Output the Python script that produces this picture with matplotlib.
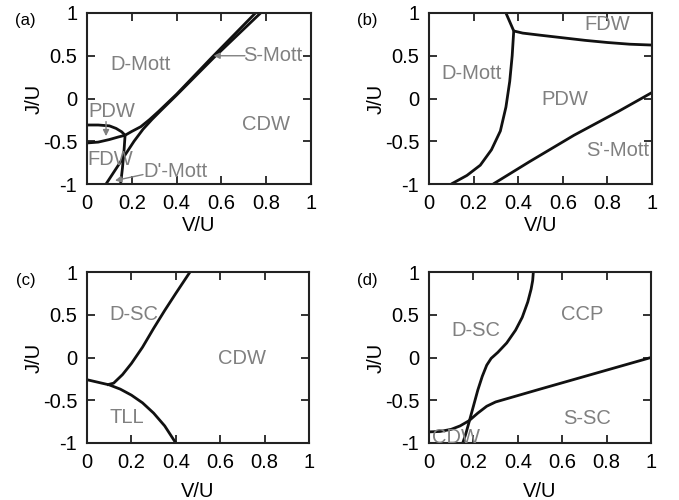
import matplotlib
matplotlib.use("Agg")
import matplotlib.pyplot as plt

plt.rcParams['font.family'] = ['Liberation Sans', 'DejaVu Sans']
plt.rcParams['axes.unicode_minus'] = False

# ---------------- data ----------------
x_ticks = [0, 0.2, 0.4, 0.6, 0.8, 1.0]
x_tick_labels = ["0", "0.2", "0.4", "0.6", "0.8", "1"]
y_ticks = [-1, -0.5, 0, 0.5, 1]
y_tick_labels = ["-1", "-0.5", "0", "0.5", "1"]

# panel (a)
a_pdw_upper_x = [0.0, 0.05, 0.10, 0.13, 0.155, 0.17]
a_pdw_upper_y = [-0.31, -0.31, -0.32, -0.35, -0.39, -0.43]
a_pdw_lower_x = [0.0, 0.05, 0.10, 0.14, 0.17]
a_pdw_lower_y = [-0.52, -0.51, -0.48, -0.45, -0.43]
a_vert_x = [0.17, 0.165, 0.158, 0.15]
a_vert_y = [-0.43, -0.62, -0.82, -1.0]
a_lineA_x = [0.17, 0.20, 0.24, 0.28, 0.32, 0.40, 0.55, 0.752]
a_lineA_y = [-0.43, -0.385, -0.33, -0.245, -0.15, 0.05, 0.46, 1.0]
a_lineB_x = [0.085, 0.13, 0.17, 0.21, 0.25, 0.29, 0.33, 0.40, 0.565, 0.775]
a_lineB_y = [-1.0, -0.82, -0.66, -0.50, -0.36, -0.245, -0.14, 0.04, 0.475, 1.0]

# panel (b)
b_dmott_x = [0.10, 0.17, 0.23, 0.28, 0.32, 0.345, 0.362, 0.373, 0.38]
b_dmott_y = [-1.0, -0.90, -0.78, -0.60, -0.38, -0.10, 0.20, 0.50, 0.79]
b_top_x = [0.38, 0.345]
b_top_y = [0.79, 1.0]
b_fdw_x = [0.38, 0.42, 0.50, 0.60, 0.70, 0.80, 0.90, 1.0]
b_fdw_y = [0.79, 0.765, 0.74, 0.71, 0.68, 0.655, 0.635, 0.625]
b_smott_x = [0.288, 0.45, 0.65, 0.85, 1.0]
b_smott_y = [-1.0, -0.74, -0.43, -0.15, 0.07]

# panel (c)
c_tll_x = [0.0, 0.05, 0.10, 0.15, 0.20, 0.25, 0.30, 0.35, 0.40]
c_tll_y = [-0.26, -0.29, -0.32, -0.37, -0.44, -0.53, -0.65, -0.80, -1.0]
c_dsc_x = [0.09, 0.12, 0.16, 0.20, 0.25, 0.30, 0.35, 0.40, 0.464]
c_dsc_y = [-0.32, -0.30, -0.20, -0.07, 0.12, 0.34, 0.55, 0.75, 1.0]

# panel (d)
d_dsc_x = [0.152, 0.165, 0.18, 0.20, 0.22, 0.24, 0.26, 0.28, 0.31, 0.35, 0.39, 0.42, 0.445, 0.46, 0.467, 0.47]
d_dsc_y = [-1.0, -0.90, -0.76, -0.57, -0.38, -0.22, -0.09, -0.01, 0.06, 0.17, 0.32, 0.47, 0.65, 0.80, 0.90, 1.0]
d_ssc_x = [0.0, 0.05, 0.10, 0.14, 0.18, 0.22, 0.26, 0.30, 0.50, 0.75, 1.0]
d_ssc_y = [-0.87, -0.865, -0.84, -0.80, -0.74, -0.65, -0.57, -0.52, -0.37, -0.185, 0.0]

# ---------------- styling ----------------
FS = 14.5
GRAY = '#808080'
LW = 2.0

fig = plt.figure(figsize=(6.79, 5.0), dpi=100)
pos = {
    'a': [87 / 679, 0.632, 224 / 679, 0.342],
    'b': [429 / 679, 0.632, 223 / 679, 0.342],
    'c': [87 / 679, 0.114, 222 / 679, 0.342],
    'd': [429 / 679, 0.114, 222 / 679, 0.342],
}
axs = {}
for k, p in pos.items():
    ax = fig.add_axes(p)
    ax.set_xlim(0, 1)
    ax.set_ylim(-1, 1)
    ax.set_xticks(x_ticks)
    ax.set_xticklabels(x_tick_labels)
    ax.set_yticks(y_ticks)
    ax.set_yticklabels(y_tick_labels)
    ax.tick_params(direction='in', top=True, right=True, length=6, width=1.3,
                   labelsize=FS, pad=7, color='#222222')
    for s in ax.spines.values():
        s.set_linewidth(1.5)
        s.set_color('#222222')
    ax.set_xlabel('V/U', fontsize=FS)
    ax.set_ylabel('J/U', fontsize=FS)
    ax.yaxis.set_label_coords(-0.195, 0.5)
    if k in ('a', 'b'):
        ax.xaxis.set_label_coords(0.5, -0.19)
    else:
        ax.xaxis.set_label_coords(0.5, -0.23)
    axs[k] = ax

def line(ax, x, y):
    ax.plot(x, y, color='#111111', lw=LW, solid_capstyle='butt', solid_joinstyle='round')

def label(ax, x, y, s):
    ax.text(x, y, s, color=GRAY, fontsize=FS, ha='center', va='center')

def arrow(ax, tail, tip):
    ax.annotate('', xy=tip, xytext=tail,
                arrowprops=dict(arrowstyle='-|>', color=GRAY, lw=1.0,
                                mutation_scale=9, shrinkA=0, shrinkB=0))

# (a)
ax = axs['a']
line(ax, a_pdw_upper_x, a_pdw_upper_y)
line(ax, a_pdw_lower_x, a_pdw_lower_y)
line(ax, a_vert_x, a_vert_y)
line(ax, a_lineA_x, a_lineA_y)
line(ax, a_lineB_x, a_lineB_y)
label(ax, 0.11, -0.155, 'PDW')
label(ax, 0.106, -0.71, 'FDW')
label(ax, 0.237, 0.40, 'D-Mott')
label(ax, 0.80, -0.30, 'CDW')
label(ax, 0.83, 0.50, 'S-Mott')
label(ax, 0.395, -0.85, "D'-Mott")
arrow(ax, (0.085, -0.27), (0.085, -0.44))
arrow(ax, (0.25, -0.89), (0.125, -0.96))
arrow(ax, (0.705, 0.50), (0.565, 0.50))

# (b)
ax = axs['b']
line(ax, b_dmott_x, b_dmott_y)
line(ax, b_top_x, b_top_y)
line(ax, b_fdw_x, b_fdw_y)
line(ax, b_smott_x, b_smott_y)
label(ax, 0.80, 0.87, 'FDW')
label(ax, 0.19, 0.295, 'D-Mott')
label(ax, 0.61, -0.01, 'PDW')
label(ax, 0.845, -0.61, "S'-Mott")

# (c)
ax = axs['c']
line(ax, c_tll_x, c_tll_y)
line(ax, c_dsc_x, c_dsc_y)
label(ax, 0.21, 0.50, 'D-SC')
label(ax, 0.70, -0.01, 'CDW')
label(ax, 0.18, -0.70, 'TLL')

# (d)
ax = axs['d']
line(ax, d_dsc_x, d_dsc_y)
line(ax, d_ssc_x, d_ssc_y)
label(ax, 0.21, 0.31, 'D-SC')
label(ax, 0.69, 0.50, 'CCP')
label(ax, 0.71, -0.71, 'S-SC')
label(ax, 0.12, -0.93, 'CDW')

# panel letters
for k, (px, py) in {'a': (25, 21), 'b': (367, 21), 'c': (26, 280), 'd': (367, 280)}.items():
    fig.text(px / 679, 1 - py / 500, '(%s)' % k, fontsize=12, ha='center', va='center')

fig.savefig('out.png', dpi=100)
